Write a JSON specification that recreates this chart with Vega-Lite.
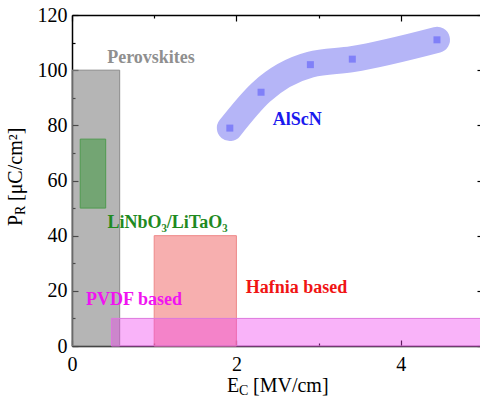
{
  "$schema": "https://vega.github.io/schema/vega-lite/v6.json",
  "width": 411,
  "height": 331,
  "autosize": {"type": "none"},
  "padding": {"left": 72, "top": 15, "right": -3, "bottom": 60},
  "background": "white",
  "datasets": {
    "regions": [
      {"name": "Perovskites", "x1": 0, "x2": 0.58, "y1": 0, "y2": 100},
      {"name": "LiNbO3/LiTaO3", "x1": 0.1, "x2": 0.41, "y1": 50, "y2": 75},
      {"name": "Hafnia based", "x1": 1.0, "x2": 2.0, "y1": 0, "y2": 40},
      {"name": "PVDF based", "x1": 0.48, "x2": 5, "y1": 0, "y2": 10}
    ],
    "alscn": [
      {"ec": 1.92, "pr": 79},
      {"ec": 2.30, "pr": 92},
      {"ec": 2.90, "pr": 102},
      {"ec": 3.41, "pr": 104},
      {"ec": 4.44, "pr": 111}
    ],
    "labels": [
      {"label": "Perovskites", "x": 0.961, "y": 102.6},
      {"label": "AlScN", "x": 2.74, "y": 80.1},
      {"label": "LiNbO₃/LiTaO₃", "x": 1.162, "y": 42.8},
      {"label": "Hafnia based", "x": 2.73, "y": 19.2},
      {"label": "PVDF based", "x": 0.754, "y": 14.9}
    ]
  },
  "layer": [
    {
      "data": {"name": "regions"},
      "mark": {"type": "rect", "strokeWidth": 1},
      "encoding": {
        "x": {"field": "x1", "type": "quantitative",
              "scale": {"domain": [0, 5], "nice": false, "zero": false},
              "axis": {"orient": "bottom", "values": [0, 2, 4], "tickSize": -6, "labelPadding": 14, "labelFlush": false, "title": null, "format": "d",
                       "labelFont": "Liberation Serif, Times New Roman, serif", "labelFontSize": 20, "labelColor": "black"}},
        "x2": {"field": "x2"},
        "y": {"field": "y1", "type": "quantitative",
              "scale": {"domain": [0, 120], "nice": false, "zero": false},
              "axis": {"orient": "left", "values": [0, 20, 40, 60, 80, 100, 120], "tickSize": -6, "labelPadding": 11, "labelFlush": false, "title": null,
                       "labelFont": "Liberation Serif, Times New Roman, serif", "labelFontSize": 20, "labelColor": "black"}},
        "y2": {"field": "y2"},
        "fill": {"field": "name", "type": "nominal", "legend": null,
                 "scale": {"domain": ["Perovskites", "LiNbO3/LiTaO3", "Hafnia based", "PVDF based"],
                           "range": ["rgba(128,128,128,0.58)", "rgba(50,150,50,0.5)", "rgba(240,96,96,0.5)", "rgba(240,64,240,0.4)"]}},
        "stroke": {"field": "name", "type": "nominal", "legend": null,
                   "scale": {"domain": ["Perovskites", "LiNbO3/LiTaO3", "Hafnia based", "PVDF based"],
                             "range": ["#8a8a8a", "#4f9a4f", "#ee8888", "#dd77dd"]}}
      }
    },
    {
      "data": {"name": "alscn"},
      "mark": {"type": "line", "interpolate": "monotone", "strokeWidth": 26, "strokeCap": "round", "color": "#b5b5f7"},
      "encoding": {
        "x": {"field": "ec", "type": "quantitative",
              "axis": {"orient": "bottom", "values": [1, 3], "tickSize": -3, "labels": false, "domain": false, "title": null}},
        "y": {"field": "pr", "type": "quantitative",
              "axis": {"orient": "left", "values": [10, 30, 50, 70, 90, 110], "tickSize": -3, "labels": false, "domain": false, "title": null}}
      }
    },
    {
      "data": {"name": "alscn"},
      "mark": {"type": "point", "shape": "square", "filled": true, "size": 49, "color": "#8080f8", "opacity": 1},
      "encoding": {
        "x": {"field": "ec", "type": "quantitative",
              "axis": {"orient": "top", "values": [0, 2, 4], "tickSize": -6, "labels": false, "title": null}},
        "y": {"field": "pr", "type": "quantitative",
              "axis": {"orient": "right", "values": [0, 20, 40, 60, 80, 100, 120], "tickSize": -6, "labels": false, "title": null}}
      }
    },
    {
      "data": {"name": "labels"},
      "mark": {"type": "text", "font": "Liberation Serif, Times New Roman, serif", "fontWeight": "bold", "fontSize": 18, "align": "center", "baseline": "alphabetic"},
      "encoding": {
        "x": {"field": "x", "type": "quantitative",
              "axis": {"orient": "top", "values": [1, 3], "tickSize": -3, "labels": false, "domain": false, "title": null}},
        "y": {"field": "y", "type": "quantitative",
              "axis": {"orient": "right", "values": [10, 30, 50, 70, 90, 110], "tickSize": -3, "labels": false, "domain": false, "title": null}},
        "text": {"field": "label"},
        "color": {"field": "label", "type": "nominal", "legend": null,
                  "scale": {"domain": ["Perovskites", "AlScN", "LiNbO₃/LiTaO₃", "Hafnia based", "PVDF based"],
                            "range": ["#8f8f8f", "#1a1aee", "#1f8a1f", "#f01414", "#f014f0"]}}
      }
    },
    {
      "data": {"values": [{"t": "E"}]},
      "mark": {"type": "text", "font": "Liberation Serif, Times New Roman, serif", "fontSize": 20, "align": "left", "baseline": "alphabetic", "color": "black"},
      "encoding": {
        "x": {"datum": 1.886, "type": "quantitative", "axis": null},
        "y": {"datum": -16.7, "type": "quantitative", "axis": null},
        "text": {"field": "t"}
      }
    },
    {
      "data": {"values": [{"t": "C"}]},
      "mark": {"type": "text", "font": "Liberation Serif, Times New Roman, serif", "fontSize": 14, "align": "left", "baseline": "alphabetic", "color": "black", "dx": 12, "dy": 3},
      "encoding": {
        "x": {"datum": 1.886, "type": "quantitative", "axis": null},
        "y": {"datum": -16.7, "type": "quantitative", "axis": null},
        "text": {"field": "t"}
      }
    },
    {
      "data": {"values": [{"t": "[MV/cm]"}]},
      "mark": {"type": "text", "font": "Liberation Serif, Times New Roman, serif", "fontSize": 20, "align": "left", "baseline": "alphabetic", "color": "black", "dx": 26},
      "encoding": {
        "x": {"datum": 1.886, "type": "quantitative", "axis": null},
        "y": {"datum": -16.7, "type": "quantitative", "axis": null},
        "text": {"field": "t"}
      }
    },
    {
      "data": {"values": [{"t": "P"}]},
      "mark": {"type": "text", "font": "Liberation Serif, Times New Roman, serif", "fontSize": 20, "align": "left", "baseline": "alphabetic", "color": "black", "angle": 270},
      "encoding": {
        "x": {"datum": -0.608, "type": "quantitative", "axis": null},
        "y": {"datum": 43.5, "type": "quantitative", "axis": null},
        "text": {"field": "t"}
      }
    },
    {
      "data": {"values": [{"t": "R"}]},
      "mark": {"type": "text", "font": "Liberation Serif, Times New Roman, serif", "fontSize": 14, "align": "left", "baseline": "alphabetic", "color": "black", "angle": 270, "dx": 11, "dy": 3},
      "encoding": {
        "x": {"datum": -0.608, "type": "quantitative", "axis": null},
        "y": {"datum": 43.5, "type": "quantitative", "axis": null},
        "text": {"field": "t"}
      }
    },
    {
      "data": {"values": [{"t": "[μC/cm²]"}]},
      "mark": {"type": "text", "font": "Liberation Serif, Times New Roman, serif", "fontSize": 20, "align": "left", "baseline": "alphabetic", "color": "black", "angle": 270, "dx": 25},
      "encoding": {
        "x": {"datum": -0.608, "type": "quantitative", "axis": null},
        "y": {"datum": 43.5, "type": "quantitative", "axis": null},
        "text": {"field": "t"}
      }
    }
  ],
  "resolve": {"axis": {"x": "independent", "y": "independent"}},
  "config": {
    "view": {"stroke": null},
    "axis": {"grid": false, "domainColor": "black", "domainWidth": 1.5, "tickColor": "black", "tickWidth": 1.2,
             "labelFont": "Liberation Serif, Times New Roman, serif", "labelFontSize": 20, "labelColor": "black"}
  }
}
